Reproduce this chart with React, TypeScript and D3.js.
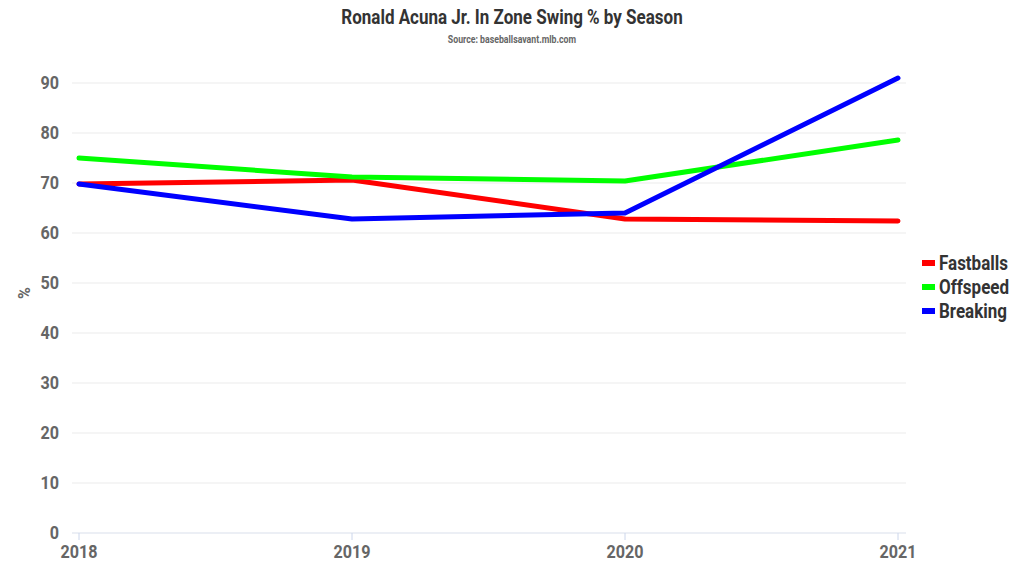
import React from "react";
import * as d3 from "d3";

const seasons = ["2018", "2019", "2020", "2021"];
const fastballs = [69.8, 70.6, 62.8, 62.4];
const offspeed = [75.0, 71.2, 70.4, 78.6];
const breaking = [69.8, 62.8, 64.0, 91.0];
const yTicks = [0, 10, 20, 30, 40, 50, 60, 70, 80, 90];
const seriesNames = ["Fastballs", "Offspeed", "Breaking"];
const seriesColors = ["#ff0000", "#00ff00", "#0000ff"];

const W = 1024, H = 576;
const FONT = "Roboto, 'Noto Sans', sans-serif";

export default function App() {
  const x = d3.scalePoint<string>().domain(seasons).range([79, 898]);
  const y = d3.scaleLinear().domain([0, 90]).range([533, 83]);
  const line = d3.line<number>().x((_, i) => x(seasons[i]) as number).y((d) => y(d));
  const data = [fastballs, offspeed, breaking];
  const cond = (cx: number, cy: number) => `translate(${cx},${cy}) scale(0.85,1) translate(${-cx},${-cy})`;
  return (
    <svg width={W} height={H} style={{ position: "absolute", left: 0, top: 0, background: "#fff" }} fontFamily={FONT}>
      <text x={512} y={24} textAnchor="middle" fontSize={20} fontWeight="bold" fill="#333" transform={cond(512, 24)}>
        Ronald Acuna Jr. In Zone Swing % by Season
      </text>
      <text x={512} y={43} textAnchor="middle" fontSize={10.3} fontWeight="bold" fill="#666" transform={cond(512, 43)}>
        Source: baseballsavant.mlb.com
      </text>
      {yTicks.map((t) => (
        <g key={t}>
          {t > 0 && <line x1={72} x2={906} y1={y(t)} y2={y(t)} stroke="#ebebeb" strokeWidth={1} />}
          <text x={59} y={y(t) + 6.5} textAnchor="end" fontSize={19} fontWeight="bold" fill="#666" transform={cond(59, y(t))}>
            {t}
          </text>
        </g>
      ))}
      <line x1={72} x2={906} y1={533} y2={533} stroke="#e6eaf2" strokeWidth={1.5} />
      {seasons.map((s) => (
        <g key={s}>
          <line x1={x(s)} x2={x(s)} y1={533} y2={540} stroke="#ccd6eb" strokeWidth={1} />
          <text x={x(s)} y={558} textAnchor="middle" fontSize={19} fontWeight="bold" fill="#666" transform={cond(x(s) as number, 558)}>
            {s}
          </text>
        </g>
      ))}
      <text transform={`translate(30,293) rotate(-90)`} textAnchor="middle" fontSize={16} fontWeight="bold" fill="#666">
        %
      </text>
      {data.map((d, i) => (
        <path key={i} d={line(d) || ""} fill="none" stroke={seriesColors[i]} strokeWidth={5} strokeLinecap="round" strokeLinejoin="round" />
      ))}
      {seriesNames.map((n, i) => (
        <g key={n}>
          <rect x={922} y={260 + i * 24} width={13} height={6} fill={seriesColors[i]} />
          <text x={939} y={270 + i * 24} fontSize={20} fontWeight="bold" fill="#333" transform={cond(939, 270 + i * 24)}>
            {n}
          </text>
        </g>
      ))}
    </svg>
  );
}
